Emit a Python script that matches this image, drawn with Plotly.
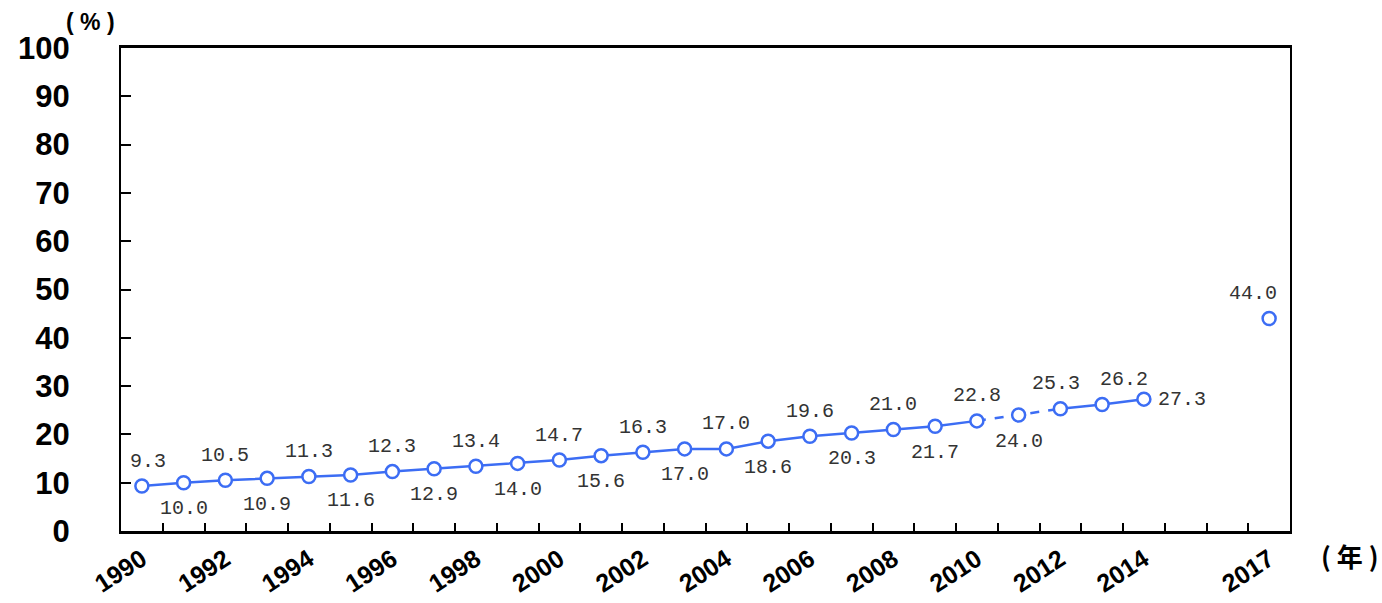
import plotly.graph_objects as go

# Annual share (%) by year; 2015 and 2016 have no figure
years = [str(y) for y in range(1990, 2018)]
share = [9.3, 10.0, 10.5, 10.9, 11.3, 11.6, 12.3, 12.9, 13.4, 14.0,
         14.7, 15.6, 16.3, 17.0, 17.0, 18.6, 19.6, 20.3, 21.0, 21.7,
         22.8, 24.0, 25.3, 26.2, 27.3, None, None, 44.0]
# Where each value label sits relative to its point
label_side = ["up", "down", "up", "down", "up", "down", "up", "down", "up", "down",
              "up", "down", "up", "down", "up", "down", "up", "down", "up", "down",
              "up", "down", "up", "up", "right", None, None, "up"]
tick_labels = ["1990", "1992", "1994", "1996", "1998", "2000", "2002",
               "2004", "2006", "2008", "2010", "2012", "2014", "2017"]
dashed_years = ["2010", "2011", "2012"]

# horizontal nudges (px) for labels that would crowd their neighbours
label_nudge = {"1990": 6, "2012": -4, "2013": 22, "2017": -16}

BLUE = "#3c6df4"

fig = go.Figure()

# Solid line, broken across the dashed stretch
solid = [None if y == "2011" else v for y, v in zip(years, share)]
fig.add_trace(go.Scatter(x=years, y=solid, mode="lines",
                         line=dict(color=BLUE, width=2.5),
                         connectgaps=False, hoverinfo="skip"))

# Dashed stretch 2010-2012
fig.add_trace(go.Scatter(x=dashed_years,
                         y=[share[years.index(y)] for y in dashed_years],
                         mode="lines",
                         line=dict(color=BLUE, width=2.5, dash="dash"),
                         hoverinfo="skip"))

# Open circle markers
fig.add_trace(go.Scatter(x=years, y=share, mode="markers",
                         marker=dict(symbol="circle", size=13, color="white",
                                     line=dict(color=BLUE, width=2.5))))

annotations = []
for i, (yr, v, side) in enumerate(zip(years, share, label_side)):
    if v is None:
        continue
    # category axes take the serial index of the category
    a = dict(x=i, y=v, xref="x", yref="y", text=f"{v:.1f}", showarrow=False,
             xshift=label_nudge.get(yr, 0),
             font=dict(family="Liberation Mono", size=20, color="#333"))
    if side == "up":
        a.update(yshift=25)
    elif side == "down":
        a.update(yshift=-26)
    else:
        a.update(xanchor="left", xshift=12)
    annotations.append(a)

annotations.append(dict(x=-0.0265, y=1.053, xref="paper", yref="paper",
                        xanchor="center", yanchor="middle",
                        text="<b>( % )</b>", showarrow=False,
                        font=dict(family="Liberation Sans", size=23, color="black")))
annotations.append(dict(x=1.0505, y=-0.05, xref="paper", yref="paper",
                        xanchor="center", yanchor="middle",
                        text="<b>( 年 )</b>", showarrow=False,
                        font=dict(family="Noto Sans CJK JP", size=26, color="black")))

fig.update_layout(
    width=1382, height=603,
    margin=dict(l=121, r=92, t=48, b=72, autoexpand=False),
    paper_bgcolor="white", plot_bgcolor="white",
    showlegend=False,
    annotations=annotations,
    xaxis=dict(
        type="category", categoryorder="array", categoryarray=years,
        range=[-0.5, len(years) - 0.5],
        tickmode="array", tickvals=years,
        ticktext=[y if y in tick_labels else "" for y in years],
        tickson="boundaries", ticks="inside", ticklen=8, tickwidth=1.5,
        tickcolor="black", tickangle=-33,
        tickfont=dict(family="Liberation Sans", size=25, color="black", weight="bold"),
        ticklabelstandoff=1, automargin=False,
        showline=True, linecolor="black", linewidth=3, mirror=True,
        showgrid=False, zeroline=False,
    ),
    yaxis=dict(
        range=[0, 100], dtick=10, tickmode="linear", tick0=0,
        ticks="inside", ticklen=10, tickwidth=1.5, tickcolor="black",
        tickfont=dict(family="Liberation Sans", size=31, color="black", weight="bold"),
        ticklabelstandoff=43, automargin=False,
        showline=True, linecolor="black", linewidth=2, mirror=True,
        showgrid=False, zeroline=False,
    ),
)

fig.write_html("out.html")
